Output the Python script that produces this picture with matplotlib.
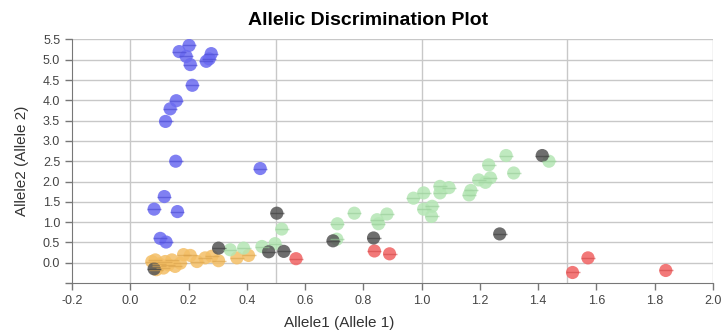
#plot.py


#COMMENT: Imports.

import numpy as np;
import matplotlib;
matplotlib.use('Agg');
import matplotlib.pyplot as plt;

plt.rcParams['font.family'] = ['Liberation Sans', 'DejaVu Sans'];


#COMMENT: Data, one pair of lists per call group.

blueX = [0.202, 0.168, 0.192, 0.206, 0.278, 0.261, 0.271, 0.213, 0.158, 0.137, 0.121, 0.156, 0.446, 0.117, 0.082, 0.162, 0.103, 0.123];
blueY = [5.35, 5.20, 5.08, 4.88, 5.15, 4.96, 5.02, 4.37, 3.99, 3.79, 3.48, 2.50, 2.32, 1.63, 1.32, 1.26, 0.60, 0.51];

orangeX = [0.086, 0.097, 0.074, 0.114, 0.120, 0.131, 0.143, 0.154, 0.172, 0.183, 0.206, 0.229, 0.257, 0.280, 0.303, 0.366, 0.406, 0.090, 0.100];
orangeY = [0.07, -0.09, 0.03, -0.13, 0.03, -0.05, 0.07, -0.09, -0.01, 0.20, 0.18, 0.03, 0.12, 0.16, 0.05, 0.12, 0.18, -0.17, -0.03];

greenX = [0.343, 0.389, 0.452, 0.497, 0.520, 0.711, 0.709, 0.769, 0.847, 0.852, 0.881, 0.972, 1.007, 1.007, 1.036, 1.034,
          1.063, 1.063, 1.094, 1.163, 1.169, 1.196, 1.219, 1.236, 1.230, 1.290, 1.316, 1.437];
greenY = [0.32, 0.36, 0.40, 0.47, 0.83, 0.96, 0.58, 1.22, 1.06, 0.96, 1.20, 1.59, 1.72, 1.32, 1.39, 1.14,
          1.88, 1.72, 1.85, 1.67, 1.78, 2.04, 1.98, 2.09, 2.41, 2.64, 2.21, 2.50];

redX = [0.569, 0.838, 0.890, 1.518, 1.571, 1.838];
redY = [0.10, 0.29, 0.22, -0.24, 0.12, -0.19];

grayX = [0.082, 0.303, 0.475, 0.503, 0.527, 0.696, 0.835, 1.268, 1.414];
grayY = [-0.15, 0.36, 0.27, 1.22, 0.28, 0.54, 0.61, 0.71, 2.64];

xTicks = [-0.2, 0.0, 0.2, 0.4, 0.6, 0.8, 1.0, 1.2, 1.4, 1.6, 1.8, 2.0];
yTicks = [-0.5, 0.0, 0.5, 1.0, 1.5, 2.0, 2.5, 3.0, 3.5, 4.0, 4.5, 5.0, 5.5];
yTickLabels = [''] + ['%.1f' % v for v in yTicks[1:]];
xGrid = [0.0, 0.5, 1.0, 1.5, 2.0];
yGrid = [0.0, 0.5, 1.0, 1.5, 2.0, 2.5, 3.0, 3.5, 4.0, 4.5, 5.0, 5.5];


#COMMENT: Create the figure with the axes placed like the reference.

fig = plt.figure(figsize = (7.22, 3.33), dpi = 100);
ax = fig.add_axes([0.0997, 0.150, 0.8878, 0.7317]);

ax.set_xlim(-0.2, 2.0);
ax.set_ylim(-0.5, 5.5);

#COMMENT: Grid every 0.5 in both directions, behind the points.

for gx in xGrid:
    ax.axvline(gx, color = '#c8c8c8', linewidth = 1.0, zorder = 1);
for gy in yGrid:
    ax.axhline(gy, color = '#c8c8c8', linewidth = 1.0, zorder = 1);

#COMMENT: Draw each group: a circle with a darker stripe through its middle.

groups = [
    (orangeX, orangeY, '#f4bf66', '#d9a24c'),
    (blueX, blueY, '#6a6af0', '#4a4ad0'),
    (greenX, greenY, '#b4e6b4', '#98cc98'),
    (redX, redY, '#f06262', '#d24a4a'),
    (grayX, grayY, '#555555', '#3e3e3e'),
];

for gx, gy, face, stripe in groups:
    ax.scatter(gx, gy, s = 90, color = face, alpha = 0.85, edgecolors = 'none', zorder = 3);
    ax.scatter(gx, gy, s = 90, marker = '_', color = stripe, linewidths = 1.0, alpha = 0.6, zorder = 4);

#COMMENT: Ticks, labels and spines.

ax.set_xticks(xTicks);
ax.set_xticklabels(['%.1f' % v for v in xTicks]);
ax.set_yticks(yTicks);
ax.set_yticklabels(yTickLabels);
ax.tick_params(axis = 'both', which = 'major', direction = 'out', length = 5, width = 1,
               color = '#777777', labelcolor = '#444444', labelsize = 9);

for side in ['top', 'right']:
    ax.spines[side].set_visible(False);
for side in ['left', 'bottom']:
    ax.spines[side].set_color('#777777');

#COMMENT: The x label in the reference sits left of the axes centre.

ax.set_xlabel('Allele1 (Allele 1)', fontsize = 11, color = '#333333');
ax.xaxis.set_label_coords(0.4165, -0.135);
ax.set_ylabel('Allele2 (Allele 2)', fontsize = 11, color = '#333333', labelpad = 10);
fig.suptitle('Allelic Discrimination Plot', x = 0.51, y = 0.965, fontsize = 14, fontweight = 'bold');

#COMMENT: Save the image and clean up.

plt.savefig('out.png', dpi = 100);
plt.close();
